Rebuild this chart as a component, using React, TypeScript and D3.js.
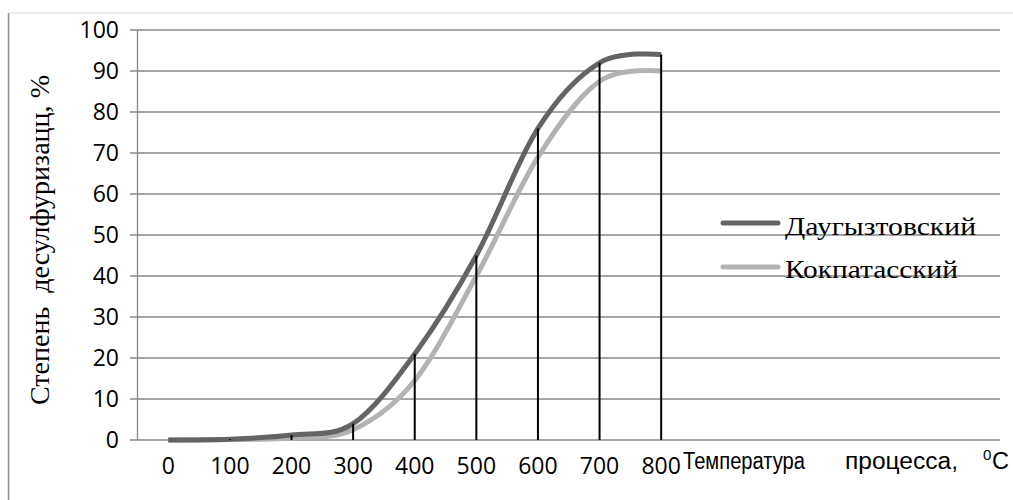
import React from "react";
import * as d3 from "d3";

const temps = [0, 100, 200, 300, 400, 500, 600, 700, 800];
const tempLabels = ["0", "100", "200", "300", "400", "500", "600", "700", "800"];
const daugyz = [0, 0.2, 1.2, 4, 21, 45, 76, 92, 94];
const kokpat = [0, 0.1, 0.5, 2.5, 14.5, 40, 69, 87.5, 90];
const yTicks = [0, 10, 20, 30, 40, 50, 60, 70, 80, 90, 100];
const seriesNames = ["Даугызтовский", "Кокпатасский"];
const categoryCount = 14;

const W = 1013;
const H = 500;
const left = 137.5;
const right = 1000;
const top = 30;
const bottom = 440;

export default function App() {
  const x = d3
    .scaleBand<number>()
    .domain(d3.range(categoryCount))
    .range([left, right]);
  const cx = (i: number) => (x(i) as number) + x.bandwidth() / 2;
  const y = d3.scaleLinear().domain([0, 100]).range([bottom, top]);

  const line = d3
    .line<number>()
    .x((_, i) => cx(i))
    .y((d) => y(d))
    .curve(d3.curveCardinal.tension(0));

  const darkColor = "#646464";
  const lightColor = "#b3b3b3";
  const gridColor = "#888888";
  const serif = "'Liberation Serif', 'Times New Roman', serif";
  const sans = "'Liberation Sans', Arial, sans-serif";
  const legendWidths = [191, 173];

  return (
    <svg
      width={W}
      height={H}
      style={{ position: "absolute", left: 0, top: 0, display: "block" }}
    >
      <rect x={0} y={0} width={W} height={H} fill="#fff" />
      {/* outer frame */}
      <line x1={8.5} y1={13} x2={W} y2={13} stroke="#d9d9d9" strokeWidth={1} />
      <line x1={8.5} y1={13} x2={8.5} y2={H} stroke="#8c8c8c" strokeWidth={1.5} />

      {/* gridlines and y ticks */}
      {yTicks.map((t) => (
        <g key={t}>
          <line
            x1={130}
            x2={right}
            y1={y(t)}
            y2={y(t)}
            stroke={gridColor}
            strokeWidth={1.3}
          />
          <text
            x={119}
            y={y(t)}
            dy="0.36em"
            textAnchor="end"
            fontFamily="'Open Sans', sans-serif"
            fontSize={23}
            fill="#000"
          >
            {t}
          </text>
        </g>
      ))}
      {/* y axis */}
      <line x1={left} x2={left} y1={top} y2={bottom} stroke={gridColor} strokeWidth={1.3} />

      {/* x labels */}
      {tempLabels.map((l, i) => (
        <text
          key={l}
          x={cx(i)}
          y={474}
          textAnchor="middle"
          fontFamily="'Open Sans', sans-serif"
          fontSize={23}
          fill="#000"
        >
          {l}
        </text>
      ))}

      {/* x title */}
      <text x={683} y={469} fontFamily={sans} fontSize={23} fill="#000" textLength={122} lengthAdjust="spacingAndGlyphs">
        Температура
      </text>
      <text x={845} y={469} fontFamily={sans} fontSize={23} fill="#000" textLength={113} lengthAdjust="spacingAndGlyphs">
        процесса,
      </text>
      <text x={983} y={460} fontFamily={sans} fontSize={15} fill="#000">
        0
      </text>
      <text x={992} y={469} fontFamily={sans} fontSize={23} fill="#000" textLength={17} lengthAdjust="spacingAndGlyphs">
        C
      </text>

      {/* y title */}
      <text
        transform={`translate(49, 405) rotate(-90)`}
        x={0}
        y={0}
        fontFamily={serif}
        fontSize={27}
        fill="#000"
        textLength={330}
        lengthAdjust="spacingAndGlyphs"
        style={{ whiteSpace: "pre" }}
      >
        {"Степень  десулфуризацц, %"}
      </text>

      {/* series */}
      <path d={line(kokpat) || ""} fill="none" stroke={lightColor} strokeWidth={5} />
      <path d={line(daugyz) || ""} fill="none" stroke={darkColor} strokeWidth={5} />

      {/* drop lines */}
      {temps.map((t, i) => (
        <line
          key={t}
          x1={cx(i)}
          x2={cx(i)}
          y1={y(daugyz[i])}
          y2={y(0)}
          stroke="#000"
          strokeWidth={2}
        />
      ))}

      {/* legend */}
      {seriesNames.map((n, i) => (
        <g key={n}>
          <line
            x1={723}
            x2={778}
            y1={223 + i * 44}
            y2={223 + i * 44}
            stroke={i === 0 ? darkColor : lightColor}
            strokeWidth={5}
            strokeLinecap="round"
          />
          <text
            x={785}
            y={235 + i * 43}
            fontFamily={serif}
            fontSize={25}
            fill="#000"
            textLength={legendWidths[i]}
            lengthAdjust="spacingAndGlyphs"
          >
            {n}
          </text>
        </g>
      ))}
    </svg>
  );
}
